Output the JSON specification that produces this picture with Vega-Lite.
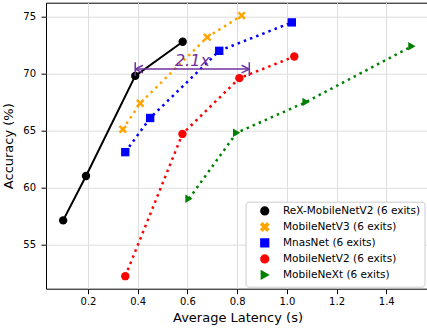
{
  "$schema": "https://vega.github.io/schema/vega-lite/v6.json",
  "width": 383,
  "height": 286,
  "autosize": {"type": "none"},
  "padding": {"left": 46, "top": 2.7, "right": 0, "bottom": 43.3},
  "background": "white",
  "config": {
    "font": "DejaVu Sans",
    "view": {"stroke": "black", "strokeWidth": 1},
    "axis": {
      "grid": true,
      "gridColor": "#dddddd",
      "gridWidth": 1,
      "domain": false,
      "tickColor": "black",
      "tickSize": 5,
      "labelFontSize": 10,
      "labelColor": "black",
      "titleFontSize": 13,
      "titleFontWeight": "normal",
      "titleColor": "black"
    },
    "legend": {
      "orient": "none", "legendX": 199.5, "legendY": 199,
      "fillColor": "white", "strokeColor": "#cccccc", "cornerRadius": 3, "padding": 4,
      "labelFontSize": 10.5, "labelColor": "black", "symbolSize": 60, "rowPadding": 1,
      "labelOffset": 13, "symbolOffset": 10, "labelLimit": 300
    }
  },
  "datasets": {
    "pts": [
      {"model": "ReX-MobileNetV2 (6 exits)", "lat": 0.10, "acc": 57.1},
      {"model": "ReX-MobileNetV2 (6 exits)", "lat": 0.192, "acc": 61.0},
      {"model": "ReX-MobileNetV2 (6 exits)", "lat": 0.39, "acc": 69.8},
      {"model": "ReX-MobileNetV2 (6 exits)", "lat": 0.581, "acc": 72.8},
      {"model": "MobileNetV3 (6 exits)", "lat": 0.34, "acc": 65.1},
      {"model": "MobileNetV3 (6 exits)", "lat": 0.41, "acc": 67.4},
      {"model": "MobileNetV3 (6 exits)", "lat": 0.68, "acc": 73.2},
      {"model": "MobileNetV3 (6 exits)", "lat": 0.818, "acc": 75.1},
      {"model": "MnasNet (6 exits)", "lat": 0.35, "acc": 63.1},
      {"model": "MnasNet (6 exits)", "lat": 0.45, "acc": 66.1},
      {"model": "MnasNet (6 exits)", "lat": 0.728, "acc": 72.0},
      {"model": "MnasNet (6 exits)", "lat": 1.02, "acc": 74.5},
      {"model": "MobileNetV2 (6 exits)", "lat": 0.35, "acc": 52.2},
      {"model": "MobileNetV2 (6 exits)", "lat": 0.58, "acc": 64.7},
      {"model": "MobileNetV2 (6 exits)", "lat": 0.809, "acc": 69.6},
      {"model": "MobileNetV2 (6 exits)", "lat": 1.03, "acc": 71.5},
      {"model": "MobileNeXt (6 exits)", "lat": 0.606, "acc": 59.0},
      {"model": "MobileNeXt (6 exits)", "lat": 0.798, "acc": 64.8},
      {"model": "MobileNeXt (6 exits)", "lat": 1.077, "acc": 67.5},
      {"model": "MobileNeXt (6 exits)", "lat": 1.503, "acc": 72.4}
    ],
    "ann": [
      {"x1": 0.39, "y1": 70.4, "x2": 0.849, "y2": 70.4},
      {"x1": 0.39, "y1": 69.8, "x2": 0.39, "y2": 71.0},
      {"x1": 0.849, "y1": 69.8, "x2": 0.849, "y2": 71.0},
      {"x1": 0.39, "y1": 70.4, "x2": 0.421, "y2": 70.73},
      {"x1": 0.39, "y1": 70.4, "x2": 0.421, "y2": 70.07},
      {"x1": 0.849, "y1": 70.4, "x2": 0.818, "y2": 70.73},
      {"x1": 0.849, "y1": 70.4, "x2": 0.818, "y2": 70.07}
    ],
    "lab": [{"x": 0.62, "y": 71.15, "t": "2.1x"}]
  },
  "encoding": {
    "x": {"field": "lat", "type": "quantitative", "title": "Average Latency (s)",
      "scale": {"domain": [0.031, 1.572], "nice": false, "zero": false},
      "axis": {"values": [0.2, 0.4, 0.6, 0.8, 1.0, 1.2, 1.4], "format": ".1f", "labelPadding": 2.5, "titlePadding": 5}},
    "y": {"field": "acc", "type": "quantitative", "title": "Accuracy (%)",
      "scale": {"domain": [51.1, 76.23], "nice": false, "zero": false},
      "axis": {"values": [55, 60, 65, 70, 75], "labelPadding": 5.5, "titlePadding": 7}}
  },
  "layer": [
    {
      "data": {"name": "pts"},
      "transform": [{"filter": "datum.model === 'ReX-MobileNetV2 (6 exits)'"}],
      "mark": {"type": "line", "strokeWidth": 2},
      "encoding": {
        "color": {"field": "model", "type": "nominal",
          "scale": {"domain": ["ReX-MobileNetV2 (6 exits)", "MobileNetV3 (6 exits)", "MnasNet (6 exits)", "MobileNetV2 (6 exits)", "MobileNeXt (6 exits)"],
            "range": ["#000000", "#FFA500", "#0000FF", "#FF0000", "#008000"]}, "title": null}
      }
    },
    {
      "data": {"name": "pts"},
      "transform": [{"filter": "datum.model !== 'ReX-MobileNetV2 (6 exits)'"}],
      "mark": {"type": "line", "strokeWidth": 2.5, "strokeDash": [2.5, 4.1]},
      "encoding": {
        "color": {"field": "model", "type": "nominal", "title": null}
      }
    },
    {
      "data": {"name": "pts"},
      "mark": {"type": "point", "filled": true, "size": 70, "opacity": 1},
      "encoding": {
        "color": {"field": "model", "type": "nominal", "title": null},
        "shape": {"field": "model", "type": "nominal", "title": null,
          "scale": {"domain": ["ReX-MobileNetV2 (6 exits)", "MobileNetV3 (6 exits)", "MnasNet (6 exits)", "MobileNetV2 (6 exits)", "MobileNeXt (6 exits)"],
            "range": ["circle", "M0,-0.42L0.59,-1L1,-0.59L0.42,0L1,0.59L0.59,1L0,0.42L-0.59,1L-1,0.59L-0.42,0L-1,-0.59L-0.59,-1Z", "square", "circle", "triangle-right"]}}
      }
    },
    {
      "data": {"name": "ann"},
      "mark": {"type": "rule", "color": "#7030A0", "strokeWidth": 1.5},
      "encoding": {
        "x": {"field": "x1", "type": "quantitative"},
        "y": {"field": "y1", "type": "quantitative"},
        "x2": {"field": "x2"},
        "y2": {"field": "y2"}
      }
    },
    {
      "data": {"name": "lab"},
      "mark": {"type": "text", "color": "#7030A0", "fontSize": 16, "fontStyle": "italic", "align": "center", "baseline": "middle"},
      "encoding": {
        "x": {"field": "x", "type": "quantitative"},
        "y": {"field": "y", "type": "quantitative"},
        "text": {"field": "t"}
      }
    }
  ]
}
